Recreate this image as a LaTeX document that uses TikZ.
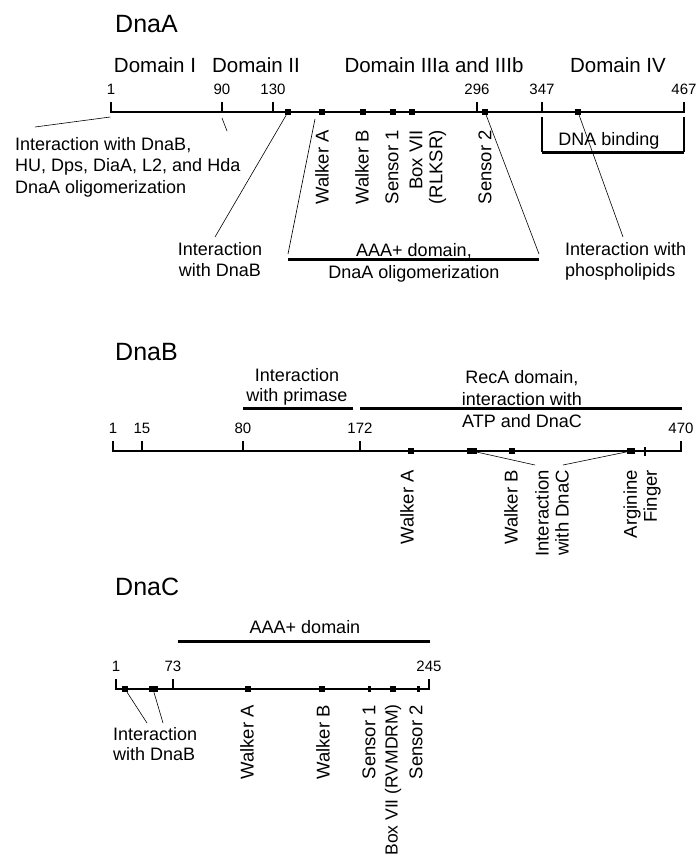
\documentclass[tikz,border=0pt]{standalone}
\usepackage{fontspec}
\setmainfont{Liberation Sans}

\begin{document}
\begin{tikzpicture}[x=1pt, y=-1pt,
    title/.style={anchor=base west, inner sep=0pt, font=\fontsize{25}{28}\selectfont},
    dom/.style={anchor=base, inner sep=0pt, font=\fontsize{20.5}{24}\selectfont},
    num/.style={anchor=south, inner sep=0pt, yshift=7pt, font=\fontsize{15}{18}\selectfont},
    lbl/.style={inner sep=0pt, font=\fontsize{18}{21.5}\selectfont},
    vlbl/.style={rotate=90, anchor=east, inner sep=0pt, align=right, font=\fontsize{18.5}{20}\selectfont},
    site/.style={fill, inner sep=0pt, minimum width=6pt, minimum height=6pt},
    axis/.style={line width=2.5pt},
    tick/.style={line width=1.5pt},
    bar/.style={line width=3pt},
    side/.style={line width=1.2pt},
    link/.style={line width=0.6pt}]
    \useasboundingbox (0,0) rectangle (697,863);

    % DnaA
    \node[title] (aTitle) at (115,32) {DnaA};
    \node[dom] (aDom1) at (155,72) {Domain I};
    \node[dom] (aDom2) at (256,72) {Domain II};
    \node[dom] (aDom3) at (434,72) {Domain IIIa and IIIb};
    \node[dom] (aDom4) at (618,72) {Domain IV};
    \coordinate (aStart) at (110.25,112);
    \coordinate (aEnd) at (684.75,112);
    \draw[axis] (aStart) -- (aEnd);
    \draw[tick] (111,112) -- ++(0,-10) node[num] (aN1) {1};
    \draw[tick] (222,112) -- ++(0,-10) node[num] (aN90) {90};
    \draw[tick] (273,112) -- ++(0,-10) node[num] (aN130) {130};
    \draw[tick] (477,112) -- ++(0,-10) node[num] (aN296) {296};
    \draw[tick] (542,112) -- ++(0,-10) node[num] (aN347) {347};
    \draw[tick] (684,112) -- ++(0,-10) node[num] (aN467) {467};
    \node[site] (aDnaB) at (288,112) {};
    \node[site] (aWalkA) at (322,112) {};
    \node[site] (aWalkB) at (363,112) {};
    \node[site] (aSens1) at (393,112) {};
    \node[site] (aBox7) at (412,112) {};
    \node[site] (aSens2) at (485,112) {};
    \node[site] (aLipid) at (578,112) {};
    \node[vlbl] (aWalkAL) at (322,130) {Walker A};
    \node[vlbl] (aWalkBL) at (362,130) {Walker B};
    \node[vlbl] (aSens1L) at (392,130) {Sensor 1};
    \node[vlbl] (aBox7L) at (428,130) {Box VII\\(RLKSR)};
    \node[vlbl] (aSens2L) at (485,130) {Sensor 2};
    \node[lbl, anchor=north west, align=left] (aNterm) at (15,137)
        {Interaction with DnaB,\\HU, Dps, DiaA, L2, and Hda\\DnaA oligomerization};
    \coordinate (aNtermTip) at (35,127);
    \draw[link] (aNtermTip) -- ([yshift=-5pt]aStart);
    \coordinate (aD2top) at (222,118);
    \coordinate (aD2bot) at (227,131);
    \draw[link] (aD2top) -- (aD2bot);
    \node[lbl, anchor=north, align=center] (aDnaBL) at (220,242) {Interaction\\with DnaB};
    \draw[link] (aDnaB) -- ([shift={(-5,-5)}]aDnaBL.north);
    \coordinate (aAAAl) at (288,259);
    \coordinate (aAAAr) at (539,259);
    \coordinate (aAAAtop) at (315,119);
    \draw[bar] (aAAAl) -- (aAAAr);
    \node[lbl, anchor=north, align=center, font=\fontsize{18}{22.5}\selectfont] (aAAAL) at (414,243)
        {AAA+ domain,\\DnaA oligomerization};
    \draw[link] (aAAAtop) -- ([yshift=5pt]aAAAl);
    \draw[link] (aSens2) -- ([yshift=5pt]aAAAr);
    \coordinate (aBindL) at (542,152);
    \coordinate (aBindR) at (684,152);
    \draw[side] (aBindL) -- ++(0,-35);
    \draw[side] (aBindR) -- ++(0,-35);
    \draw[bar] (aBindL) -- (aBindR);
    \node[lbl, anchor=base] (aBindT) at (609,145) {DNA binding};
    \node[lbl, anchor=north west, align=left] (aLipidL) at (565,242) {Interaction with\\phospholipids};
    \draw[link] (aLipid) -- ([shift={(58,-5)}]aLipidL.north west);

    % DnaB
    \node[title] (bTitle) at (115,360) {DnaB};
    \coordinate (bPrimA) at (243,408);
    \coordinate (bPrimB) at (353,408);
    \coordinate (bRecAA) at (360,408);
    \coordinate (bRecAB) at (682,408);
    \draw[bar] (bPrimA) -- (bPrimB);
    \draw[bar] (bRecAA) -- (bRecAB);
    \node[lbl, anchor=north, align=center, font=\fontsize{18}{20}\selectfont] (bPrimL) at (297,368)
        {Interaction\\with primase};
    \node[lbl, anchor=north, align=center, font=\fontsize{18}{22}\selectfont] (bRecAL) at (522,370)
        {RecA domain,\\interaction with\\ATP and DnaC};
    \coordinate (bStart) at (112.25,451);
    \coordinate (bEnd) at (681.75,451);
    \draw[axis] (bStart) -- (bEnd);
    \draw[tick] (113,451) -- ++(0,-10) node[num] (bN1) {1};
    \draw[tick] (142,451) -- ++(0,-10) node[num] (bN15) {15};
    \draw[tick] (243,451) -- ++(0,-10) node[num] (bN80) {80};
    \draw[tick] (360,451) -- ++(0,-10) node[num] (bN172) {172};
    \draw[tick] (681,451) -- ++(0,-10) node[num] (bN470) {470};
    \node[site] (bWalkA) at (411,451) {};
    \node[site, minimum width=10pt] (bDnaC1) at (472,451) {};
    \node[site] (bWalkB) at (512,451) {};
    \node[site, minimum width=8pt] (bDnaC2) at (631,451) {};
    \node[site, minimum width=2pt, minimum height=9pt] (bArg) at (645,451) {};
    \node[vlbl] (bWalkAL) at (407,470) {Walker A};
    \node[vlbl] (bWalkBL) at (511,470) {Walker B};
    \node[vlbl] (bDnaCL) at (552,470) {Interaction\\with DnaC};
    \node[vlbl] (bArgL) at (642,470) {Arginine\\Finger};
    \draw[link] (bDnaC1) -- ([shift={(-17,-5)}]bDnaCL.east);
    \draw[link] (bDnaC2) -- ([shift={(11,-5)}]bDnaCL.east);

    % DnaC
    \node[title] (cTitle) at (115,595) {DnaC};
    \coordinate (cAAAl) at (178,641);
    \coordinate (cAAAr) at (430,641);
    \draw[bar] (cAAAl) -- (cAAAr);
    \node[lbl, anchor=north] (cAAAL) at (305,620) {AAA+ domain};
    \coordinate (cStart) at (115.25,689);
    \coordinate (cEnd) at (429.75,689);
    \draw[axis] (cStart) -- (cEnd);
    \draw[tick] (116,689) -- ++(0,-10) node[num] (cN1) {1};
    \draw[tick] (173,689) -- ++(0,-10) node[num] (cN73) {73};
    \draw[tick] (429,689) -- ++(0,-10) node[num] (cN245) {245};
    \node[site] (cDnaB1) at (125,689) {};
    \node[site, minimum width=9pt] (cDnaB2) at (153,689) {};
    \node[site] (cWalkA) at (248,689) {};
    \node[site] (cWalkB) at (322,689) {};
    \node[site, minimum width=3pt] (cSens1) at (369,689) {};
    \node[site] (cBox7) at (393,689) {};
    \node[site, minimum width=3pt] (cSens2) at (418,689) {};
    \node[lbl, anchor=north west, align=left, font=\fontsize{18}{20}\selectfont] (cDnaBL) at (113,727)
        {Interaction\\with DnaB};
    \draw[link] (cDnaB1) -- ([shift={(34,-4)}]cDnaBL.north west);
    \draw[link] (cDnaB2) -- ([shift={(50,-4)}]cDnaBL.north west);
    \node[vlbl] (cWalkAL) at (247,705) {Walker A};
    \node[vlbl] (cWalkBL) at (323,705) {Walker B};
    \node[vlbl] (cSens1L) at (369,705) {Sensor 1};
    \node[vlbl, font=\fontsize{17.5}{20}\selectfont] (cBox7L) at (393,704) {Box VII (RVMDRM)};
    \node[vlbl] (cSens2L) at (416,705) {Sensor 2};
\end{tikzpicture}
\end{document}
